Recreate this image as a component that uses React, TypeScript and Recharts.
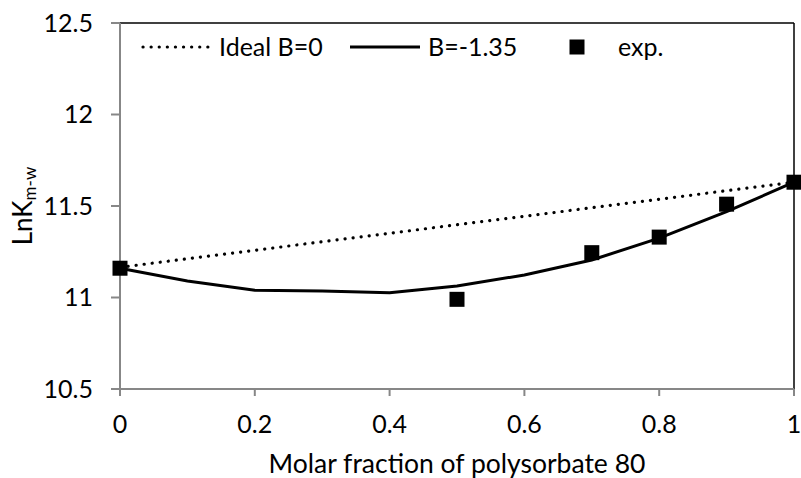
import React from "react";
import { ComposedChart, Line, Scatter, XAxis, YAxis, ReferenceLine } from "recharts";

// x values (molar fraction of polysorbate 80)
const fractions = [0, 0.1, 0.2, 0.3, 0.4, 0.5, 0.6, 0.7, 0.8, 0.9, 1];
const regularB = [11.16, 11.09, 11.04, 11.035, 11.026, 11.063, 11.123, 11.205, 11.324, 11.469, 11.63];

const idealX = [0, 1];
const idealY = [11.165, 11.63];

const expX = [0, 0.5, 0.7, 0.8, 0.9, 1];
const expY = [11.16, 10.99, 11.245, 11.33, 11.51, 11.63];

const xTicks = [0, 0.2, 0.4, 0.6, 0.8, 1];
const yTicks = [10.5, 11, 11.5, 12, 12.5];

const bData = fractions.map((x, i) => ({ x, y: regularB[i] }));
const idealData = idealX.map((x, i) => ({ x, y: idealY[i] }));
const expData = expX.map((x, i) => ({ x, y: expY[i] }));

const FONT = "Lato, 'Open Sans', sans-serif";
const AXIS_GRAY = "#878787";

const SquareDot = (props: any) => (
  <rect x={props.cx - 7.5} y={props.cy - 7.5} width={15} height={15} fill="#000" />
);

const YLabel = () => (
  <text
    x={22}
    y={206}
    transform="rotate(-90 22 206)"
    textAnchor="middle"
    dominantBaseline="central"
    fontSize={26}
    fontFamily={FONT}
    fill="#000"
  >
    LnK
    <tspan dy={7} fontSize={17}>
      m-w
    </tspan>
  </text>
);

const XLabel = () => (
  <text x={457} y={473} textAnchor="middle" fontSize={26.5} fontFamily={FONT} fill="#000">
    Molar fraction of polysorbate 80
  </text>
);

export default function App() {
  return (
    <div style={{ position: "absolute", left: 0, top: 0, width: 801, height: 478, background: "#fff" }}>
      <ComposedChart width={801} height={478} margin={{ top: 23, right: 7, bottom: 0, left: 0 }}>
        <XAxis
          dataKey="x"
          type="number"
          domain={[0, 1]}
          ticks={xTicks}
          height={89}
          tickSize={7}
          tickMargin={19}
          stroke={AXIS_GRAY}
          strokeWidth={2}
          tick={{ fill: "#000", fontSize: 25, fontFamily: FONT }}
          allowDuplicatedCategory={false}
          label={{ content: XLabel }}
        />
        <YAxis
          dataKey="y"
          type="number"
          domain={[10.5, 12.5]}
          ticks={yTicks}
          width={120}
          tickSize={9}
          tickMargin={18}
          stroke={AXIS_GRAY}
          strokeWidth={2}
          tick={{ fill: "#000", fontSize: 25, fontFamily: FONT }}
          label={{ content: YLabel }}
        />
        <ReferenceLine y={12.5} stroke="#000" strokeWidth={1.5} />
        <ReferenceLine x={1} stroke="#000" strokeWidth={1.5} />
        <Line
          data={idealData}
          dataKey="y"
          type="linear"
          stroke="#000"
          strokeWidth={3.2}
          strokeDasharray="0.1 8"
          strokeLinecap="round"
          dot={false}
          activeDot={false}
          isAnimationActive={false}
        />
        <Line
          data={bData}
          dataKey="y"
          type="linear"
          stroke="#000"
          strokeWidth={3}
          dot={false}
          activeDot={false}
          isAnimationActive={false}
        />
        <Scatter data={expData} dataKey="y" fill="#000" shape={SquareDot} isAnimationActive={false} />
      </ComposedChart>
      <div
        style={{
          position: "absolute",
          left: 0,
          top: 0,
          width: 801,
          height: 80,
          pointerEvents: "none",
          fontFamily: FONT,
          fontSize: 25,
          color: "#000",
        }}
      >
        <svg width={801} height={80} style={{ position: "absolute", left: 0, top: 0 }}>
          <line x1={143} y1={47} x2={208} y2={47} stroke="#000" strokeWidth={3.2} strokeDasharray="0.1 8" strokeLinecap="round" />
          <line x1={350} y1={47} x2={420} y2={47} stroke="#000" strokeWidth={3} />
          <rect x={569.5} y={39.5} width={15} height={15} fill="#000" />
        </svg>
        <span style={{ position: "absolute", left: 219, top: 31, lineHeight: "30px" }}>Ideal B=0</span>
        <span style={{ position: "absolute", left: 428, top: 31, lineHeight: "30px" }}>B=-1.35</span>
        <span style={{ position: "absolute", left: 618, top: 31, lineHeight: "30px" }}>exp.</span>
      </div>
    </div>
  );
}
